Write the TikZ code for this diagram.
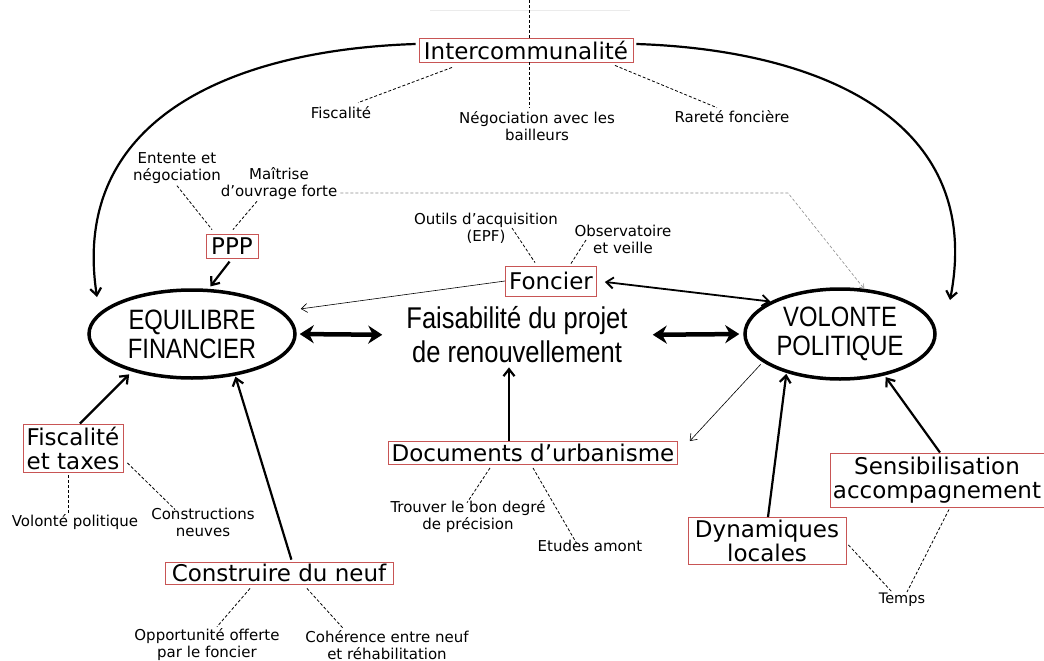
\documentclass[tikz,border=0pt]{standalone}
\usepackage{fontspec}
\setmainfont{DejaVu Sans}
\newfontfamily\narrowfont{Liberation Sans}[FakeStretch=0.85]
\usetikzlibrary{shapes.geometric,arrows.meta,calc}
\definecolor{boxred}{RGB}{200,85,85}
\begin{document}
\begin{tikzpicture}[x=1pt,y=-1pt,
  box/.style={draw=boxred, line width=0.9pt, inner xsep=3pt, inner ysep=1pt, align=center,
    font=\fontsize{23}{24}\selectfont},
  lab/.style={inner sep=0pt, align=center, font=\fontsize{15}{17}\selectfont},
  oval/.style={ellipse, draw, line width=3.5pt, inner sep=0pt, align=center,
    minimum width=206pt, minimum height=88pt, font=\narrowfont\fontsize{28}{29}\selectfont},
  dsh/.style={dash pattern=on 3pt off 2pt, line width=0.8pt},
  arr/.style={-{Straight Barb[length=7pt,width=11pt]}, line width=2.2pt},
  thinarr/.style={-{Straight Barb[length=6pt,width=9pt]}, line width=0.6pt},
  dbl/.style={{Stealth[length=14pt,width=18pt]}-{Stealth[length=14pt,width=18pt]}, line width=4.5pt}
]
\fill[white] (0,0) rectangle (1044,661);
\useasboundingbox (0,0) rectangle (1044,661);

% faint line at top
\draw[black!8, line width=0.6pt] (430,10) -- (630,10);

% nodes
\node[box, minimum width=214pt, minimum height=24pt] (inter) at (526,50) {Intercommunalité};
\node[lab] (fisc1) at (341,113) {Fiscalité};
\node[lab] (nego) at (537,126) {Négociation avec les\\bailleurs};
\node[lab] (rare) at (732,117) {Rareté foncière};
\node[lab] (ent) at (177,168) {Entente et\\négociation};
\node[lab] (mai) at (279,184) {Maîtrise\\d’ouvrage forte};
\node[box, minimum width=52pt, minimum height=24pt] (ppp) at (232,246) {PPP};
\node[lab] (outils) at (486,228) {Outils d’acquisition\\(EPF)};
\node[lab] (obs) at (623,239) {Observatoire\\et veille};
\node[box, minimum width=91pt, minimum height=30pt] (fon) at (551,281) {Foncier};
\node[oval] (eq) at (192,334) {EQUILIBRE\\FINANCIER};
\node[inner sep=0pt, align=center, font=\narrowfont\fontsize{30}{34}\selectfont] (fais) at (517,335) {Faisabilité du projet\\de renouvellement};
\node[oval, minimum width=190pt, minimum height=90pt] (vol) at (840,334) {VOLONTE\\POLITIQUE};
\node[box, minimum width=100pt, minimum height=48pt] (fiscbox) at (73,448) {Fiscalité\\et taxes};
\node[lab] (volpol) at (75,522) {Volonté politique};
\node[lab] (constr) at (203,522) {Constructions\\neuves};
\node[box, minimum width=228pt, minimum height=22pt] (cons) at (279,573) {Construire du neuf};
\node[lab] (opp) at (207,645) {Opportunité offerte\\par le foncier};
\node[lab] (coh) at (387,645) {Cohérence entre neuf\\et réhabilitation};
\node[box, minimum width=287pt, minimum height=23pt] (doc) at (533,453) {Documents d’urbanisme};
\node[lab] (trouv) at (468,517) {Trouver le bon degré\\de précision};
\node[lab] (etud) at (590,546) {Etudes amont};
\node[box, minimum width=158pt, minimum height=47pt] (dyn) at (767,541) {Dynamiques\\locales};
\node[box, minimum width=209pt, minimum height=54pt] (sens) at (937,480) {Sensibilisation\\accompagnement};
\node[lab, font=\fontsize{14.5}{16}\selectfont] (temps) at (902,600) {Temps};

\coordinate (topc) at (529,0);
\coordinate (eqin) at (97,297);
\coordinate (volin) at (950,300);
\coordinate (bend) at (788,193);

% dashed connectors
\draw[dsh] (topc) -- ([xshift=3pt]inter.north);
\draw[dsh] ([xshift=3pt]inter.south) -- ([xshift=-8pt,yshift=3pt]nego.north);
\draw[dsh] ([xshift=-74pt,yshift=-5pt]inter.south) -- ([xshift=17pt,yshift=4pt]fisc1.north);
\draw[dsh] ([xshift=89pt,yshift=-3pt]inter.south) -- ([xshift=-15pt,yshift=3pt]rare.north);
\draw[dsh] ([yshift=-2pt]ent.south) -- ([xshift=-20pt,yshift=4pt]ppp.north);
\draw[dsh] ([xshift=-22pt,yshift=-1pt]mai.south) -- ([xshift=1pt,yshift=4pt]ppp.north);
\draw[dsh, black!45, -{Straight Barb[length=4pt,width=6pt]}, line width=0.6pt]
  ([xshift=3pt,yshift=-9pt]mai.east) -- (bend) -- (vol.62);
\draw[dsh] ([xshift=26pt]outils.center) -- ([xshift=-16pt,yshift=3pt]fon.north);
\draw[dsh] ([xshift=-37pt,yshift=-1pt]obs.center) -- ([xshift=20pt,yshift=2pt]fon.north);
\draw[dsh] ([xshift=-5pt,yshift=-3pt]fiscbox.south) -- ([xshift=-7pt]volpol.north);
\draw[dsh] ([xshift=4pt,yshift=-15pt]fiscbox.east) -- ([xshift=-28pt,yshift=-2pt]constr.north);
\draw[dsh] ([xshift=-29pt,yshift=-4pt]cons.south) -- ([xshift=10pt,yshift=2pt]opp.north);
\draw[dsh] ([xshift=28pt,yshift=-4pt]cons.south) -- ([xshift=-44pt,yshift=2pt]coh.north);
\draw[dsh] ([xshift=-43pt,yshift=-3pt]doc.south) -- ([xshift=-1pt,yshift=-2pt]trouv.north);
\draw[dsh] ([xshift=0pt,yshift=-3pt]doc.south) -- ([xshift=-13pt,yshift=-4pt]etud.north);
\draw[dsh] ([xshift=2pt,yshift=-4pt]dyn.east) -- ([xshift=-10pt,yshift=1pt]temps.north);
\draw[dsh] ([xshift=12pt,yshift=-2pt]sens.south) -- ([xshift=5pt,yshift=1pt]temps.north);

% solid arrows
\draw[arr] ([xshift=-3pt,yshift=6pt]inter.west) .. controls (230,50) and (70,120) .. (eqin);
\draw[arr] ([xshift=3pt,yshift=6pt]inter.east) .. controls (820,50) and (985,120) .. (volin);
\draw[arr, shorten <=4pt, shorten >=3pt] (ppp.south) -- (eq.70);
\draw[thinarr, shorten >=18pt] (fon.west) -- (eq.14);
\draw[{Straight Barb[length=7pt,width=11pt]}-{Straight Barb[length=7pt,width=11pt]}, line width=1.8pt, shorten <=8pt]
  (fon.east) -- (vol.155);
\draw[dbl, shorten <=3pt, shorten >=24pt] (eq.east) -- (fais.west);
\draw[dbl, shorten <=25pt, shorten >=4pt] (fais.east) -- (vol.west);
\draw[arr, shorten >=4pt] ([xshift=7pt]fiscbox.north) -- (eq.-148);
\draw[arr, shorten <=2pt, shorten >=1pt] ([xshift=13pt]cons.north) -- (eq.-44);
\draw[arr, shorten >=4pt] ([xshift=-24pt]doc.north) -- ([xshift=-8pt]fais.south);
\draw[thinarr, shorten <=3pt] (vol.-160) -- ([xshift=12pt]doc.north east);
\draw[arr, shorten >=1pt] ([xshift=1pt]dyn.north) -- (vol.-144);
\draw[arr, shorten >=2pt] ([xshift=3pt]sens.north) -- (vol.-43.5);
\end{tikzpicture}
\end{document}
